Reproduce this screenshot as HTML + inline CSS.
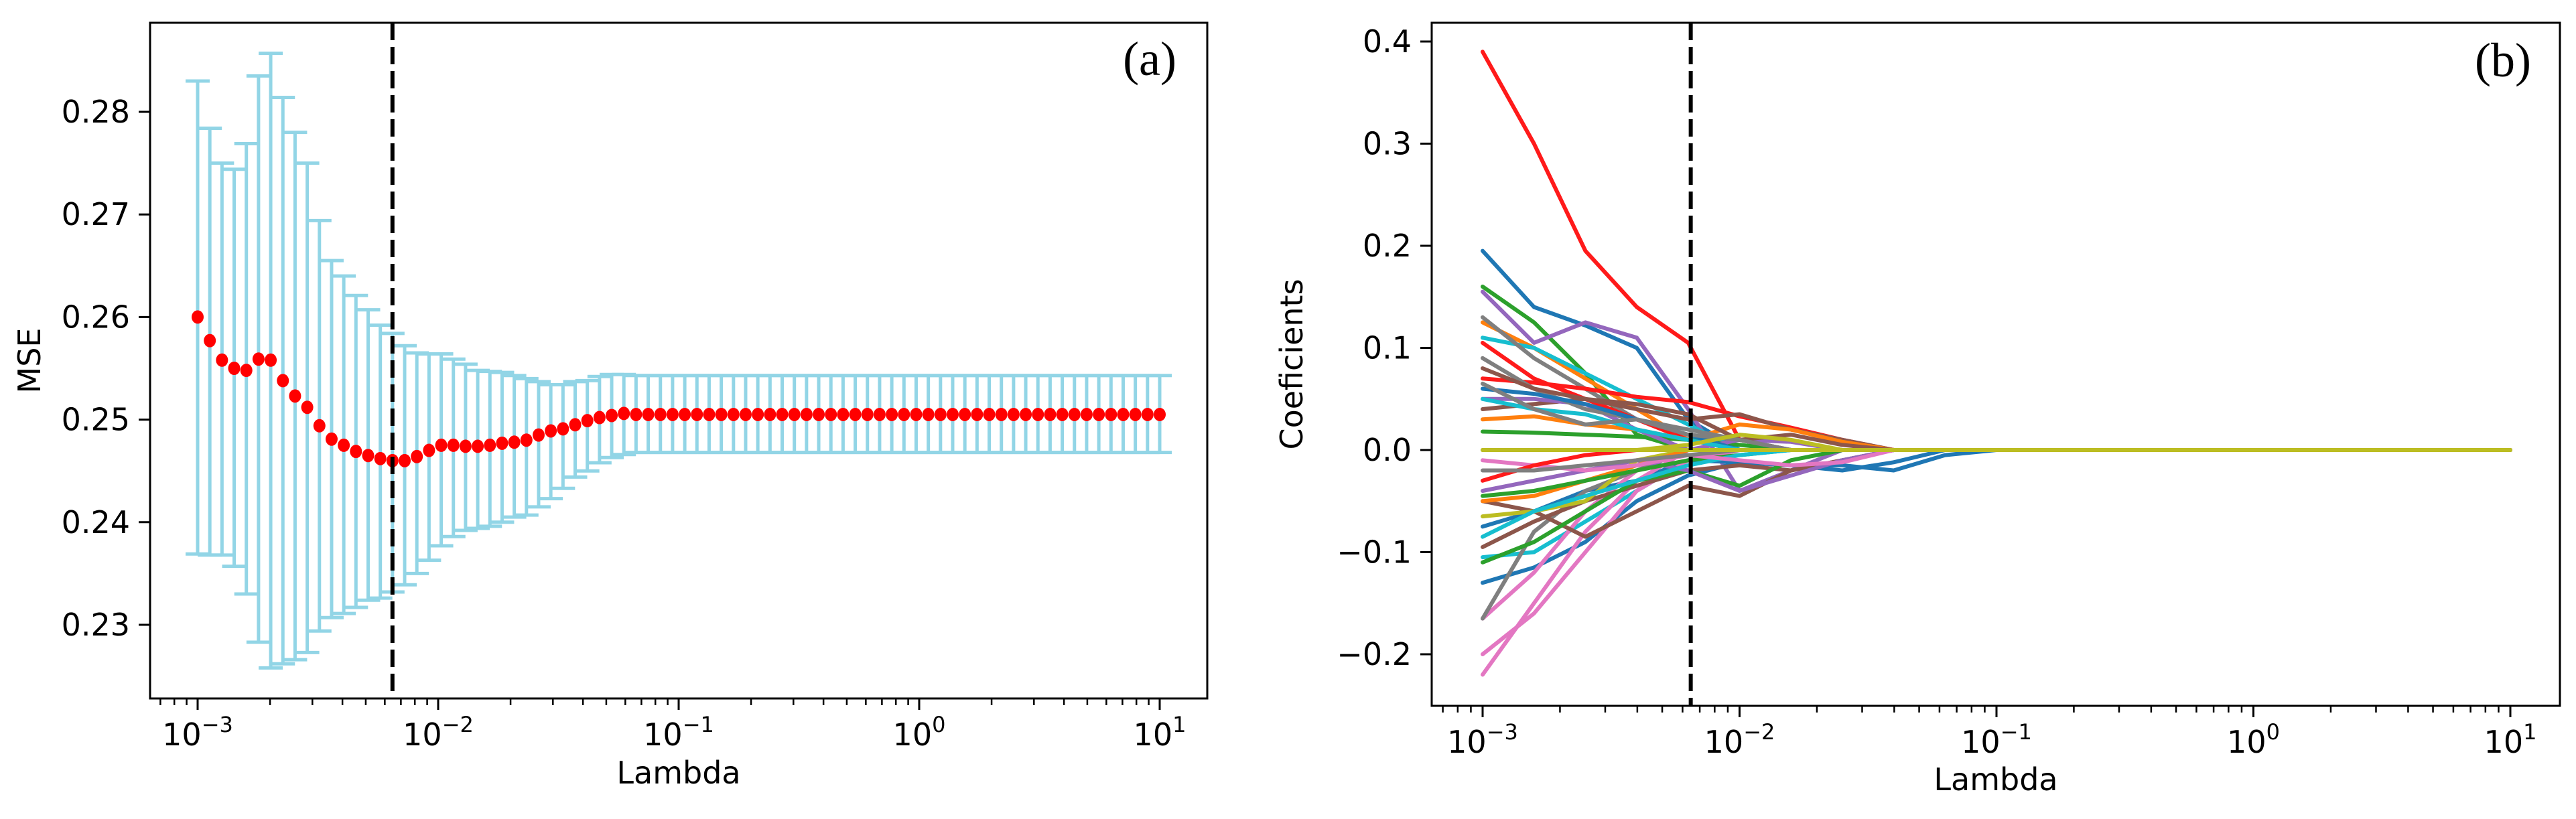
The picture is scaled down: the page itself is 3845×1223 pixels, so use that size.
<!DOCTYPE html>
<html><head><meta charset="utf-8">
<style>
html,body{margin:0;padding:0;background:#fff;}
svg text{font-family:"DejaVu Sans","Liberation Sans",sans-serif;fill:#000;}
</style></head>
<body>
<svg id="fig" width="3845" height="1218" viewBox="0 0 3845 1218" xmlns="http://www.w3.org/2000/svg">
<rect width="3845" height="1218" fill="#fff"/>
<g id="panelA"></g>
<g id="panelB"></g>
</svg>
<script>
// ---- Panel (a) data ----
const mseNLambda = 80;
const mseMean = [0.2600,0.2577,0.2558,0.2550,0.2548,0.2559,0.2558,0.2538,0.2523,0.2512,0.2494,0.2481,0.2475,0.2469,0.2465,0.2462,0.2460,0.2460,0.2464,0.2470,0.2475,0.2475,0.2474,0.2474,0.2475,0.2477,0.2478,0.2480,0.2485,0.2489,0.2491,0.2495,0.2499,0.2502,0.2504,0.2506];
const mseUpper = [0.2830,0.2784,0.2750,0.2744,0.2769,0.2835,0.2857,0.2814,0.2780,0.2750,0.2694,0.2655,0.2640,0.2621,0.2607,0.2592,0.2584,0.2572,0.2565,0.2564,0.2564,0.2559,0.2554,0.2548,0.2547,0.2546,0.2543,0.2540,0.2537,0.2534,0.2534,0.2537,0.2538,0.2542,0.2544,0.2544];
const mseLower = [0.2369,0.2368,0.2368,0.2357,0.2330,0.2283,0.2258,0.2262,0.2266,0.2273,0.2294,0.2307,0.2311,0.2317,0.2324,0.2326,0.2332,0.2339,0.2350,0.2363,0.2377,0.2386,0.2392,0.2394,0.2396,0.2400,0.2405,0.2407,0.2415,0.2423,0.2433,0.2444,0.2450,0.2458,0.2463,0.2466];
const msePlateau = [0.2505, 0.2543, 0.2468]; // mean, upper, lower for remaining lambdas
const mseYTicks = [0.23,0.24,0.25,0.26,0.27,0.28];
const mseYTickLabels = ["0.23","0.24","0.25","0.26","0.27","0.28"];
const xDecades = [-3,-2,-1,0,1];
const xDecadeLabels = ["\u22123","\u22122","\u22121","0","1"];
const bestLogLambda = -2.19;

// ---- Panel (b) data ----
const coefLogLambda = [-3,-2.8,-2.6,-2.4,-2.2,-2.0,-1.8,-1.6,-1.4,-1.2,-1.0,1];
const coefColors = ["#ff1a1a","#1f77b4","#2ca02c","#9467bd","#ff7f0e","#17becf","#7f7f7f","#ff1a1a","#ff1a1a","#8c564b","#ff7f0e","#2ca02c","#9467bd","#7f7f7f","#1f77b4","#8c564b","#17becf","#7f7f7f","#1f77b4","#1f77b4","#17becf","#e377c2","#e377c2","#e377c2","#7f7f7f","#8c564b","#8c564b","#2ca02c","#9467bd","#bcbd22","#ff7f0e","#2ca02c","#17becf","#e377c2","#ff1a1a","#7f7f7f","#7f7f7f","#bcbd22","#bcbd22"];
const coefPaths = [
[0.39,0.30,0.195,0.14,0.105,0.01,0,0,0,0,0,0],
[0.195,0.14,0.122,0.10,0.03,0,0,0,0,0,0,0],
[0.16,0.125,0.075,0.015,0,0,0,0,0,0,0,0],
[0.155,0.105,0.125,0.11,0.04,-0.04,-0.02,0,0,0,0,0],
[0.125,0.10,0.07,0.04,0.01,0,0,0,0,0,0,0],
[0.11,0.10,0.075,0.05,0.025,0,0,0,0,0,0,0],
[0.13,0.09,0.06,0.03,0.015,0.01,0,0,0,0,0,0],
[0.07,0.066,0.06,0.052,0.047,0.033,0.022,0.01,0,0,0,0],
[0.105,0.07,0.05,0.03,0.01,0,0,0,0,0,0,0],
[0.04,0.045,0.05,0.04,0.03,0.035,0.02,0.01,0,0,0,0],
[0.03,0.033,0.025,0.02,0.01,0.025,0.02,0.008,0,0,0,0],
[0.018,0.017,0.015,0.013,0.01,0.005,0,0,0,0,0,0],
[0.05,0.05,0.045,0.02,0,0.01,0.008,0,0,0,0,0],
[0.09,0.06,0.04,0.03,0.02,0.01,0,0,0,0,0,0],
[0.06,0.055,0.045,0.03,0.015,0,0,0,0,0,0,0],
[0.08,0.06,0.05,0.045,0.035,0.01,0.015,0.005,0,0,0,0],
[0.05,0.04,0.035,0.02,0.01,0,0,0,0,0,0,0],
[0.065,0.04,0.025,0.03,0.015,0.01,0,0,0,0,0,0],
[-0.13,-0.115,-0.09,-0.05,-0.025,-0.012,-0.015,-0.02,-0.012,0,0,0],
[-0.075,-0.06,-0.04,-0.03,-0.01,-0.012,-0.015,-0.015,-0.02,-0.005,0,0],
[-0.105,-0.1,-0.07,-0.04,-0.01,0,0,0,0,0,0,0],
[-0.22,-0.15,-0.08,-0.03,0,0,0,0,0,0,0,0],
[-0.2,-0.16,-0.1,-0.04,-0.01,0,0,0,0,0,0,0],
[-0.165,-0.12,-0.06,-0.02,0,0,0,0,0,0,0,0],
[-0.165,-0.08,-0.04,-0.02,0,0,0,0,0,0,0,0],
[-0.05,-0.06,-0.085,-0.06,-0.035,-0.045,-0.02,-0.01,0,0,0,0],
[-0.095,-0.07,-0.05,-0.035,-0.02,-0.015,-0.02,-0.01,0,0,0,0],
[-0.11,-0.09,-0.06,-0.03,-0.02,-0.035,-0.01,0,0,0,0,0],
[-0.04,-0.03,-0.02,-0.01,-0.02,-0.04,-0.025,-0.01,0,0,0,0],
[-0.065,-0.06,-0.05,-0.01,0,0,0,0,0,0,0,0],
[-0.05,-0.045,-0.03,-0.015,0,0,0,0,0,0,0,0],
[-0.045,-0.04,-0.03,-0.02,-0.01,-0.005,0,0,0,0,0,0],
[-0.085,-0.06,-0.045,-0.03,-0.015,-0.005,0,0,0,0,0,0],
[-0.01,-0.015,-0.02,-0.015,-0.005,-0.01,-0.015,-0.012,0,0,0,0],
[-0.03,-0.015,-0.005,0,0,0,0,0,0,0,0,0],
[-0.02,-0.02,-0.015,-0.01,-0.005,0,0,0,0,0,0,0],
[0,0,0,0,0,0,0,0,0,0,0,0],
[0,0,0,0,0.005,0.015,0.01,0,0,0,0,0],
[0,0,0,0,0,0,0,0,0,0,0,0]
];
const coefYTicks = [-0.2,-0.1,0.0,0.1,0.2,0.3,0.4];
const coefYTickLabels = ["\u22120.2","\u22120.1","0.0","0.1","0.2","0.3","0.4"];

const NS = "http://www.w3.org/2000/svg";
function mk(tag, attrs, parent){
  const e = document.createElementNS(NS, tag);
  for (const k in attrs) e.setAttribute(k, attrs[k]);
  parent.appendChild(e);
  return e;
}

function drawAxes(g, P, xs, ys, yTicks, yLabels, yTitle, xTitleY, tag, tagX, tagY){
  const fr = mk('rect', {x:P.l, y:P.t, width:P.r-P.l, height:P.b-P.t, fill:'none', stroke:'#000', 'stroke-width':3}, g);
  
  
  yTicks.forEach((v,i)=>{
    const y = ys(v);
    const t = mk('line', {x1:P.l-17, x2:P.l, y1:y, y2:y, stroke:'#000','stroke-width':3}, g);
    
    
    const tx = mk('text', {x:P.l-30, y:y+16, 'font-size':46, 'text-anchor':'end'}, g);
    tx.textContent = yLabels[i];
    
    
  });
  xDecades.forEach((d,i)=>{
    const x = xs(d);
    const t = mk('line', {x1:x, x2:x, y1:P.b, y2:P.b+17, stroke:'#000','stroke-width':3}, g);
    
    
    const tx = mk('text', {x:x, y:P.b+70, 'font-size':46, 'text-anchor':'middle'}, g);
    
    
    const a = document.createElementNS(NS,'tspan'); a.textContent='10'; tx.appendChild(a);
    const b = document.createElementNS(NS,'tspan'); b.setAttribute('dy','-20'); b.setAttribute('font-size','32'); b.textContent=xDecadeLabels[i]; tx.appendChild(b);
  });
  for (let d=-4; d<=1; d++){
    for (let m=2; m<=9; m++){
      const lv = d + Math.log10(m);
      const x = xs(lv);
      if (x < P.l+2 || x > P.r-2) continue;
      const t = mk('line', {x1:x, x2:x, y1:P.b, y2:P.b+10, stroke:'#000','stroke-width':2.5}, g);
      
      
    }
  }
  const xt = mk('text', {x:(P.l+P.r)/2, y:xTitleY, 'font-size':46, 'text-anchor':'middle'}, g);
  xt.textContent = 'Lambda';
  
  
  const yt = mk('text', {x:0, y:0, 'font-size':46, 'text-anchor':'middle', transform:`translate(${P.yTitleX},${(P.t+P.b)/2}) rotate(-90)`}, g);
  yt.textContent = yTitle;
  
  
  const tg = mk('text', {x:tagX, y:tagY, 'font-size':72, 'text-anchor':'end', style:'font-family:"Liberation Serif",serif'}, g);
  tg.textContent = tag;
  
  
}

(function(){
  const g = document.getElementById('panelA');
  const P = {l:224, r:1802, t:34, b:1043, yTitleX:60};
  const x0 = 295, dec = 359;
  const xs = lv => x0 + (lv + 3) * dec;
  const ys = v => 167 + (0.28 - v) / 0.01 * 153.2;
  drawAxes(g, P, xs, ys, mseYTicks, mseYTickLabels, 'MSE', 1170, '(a)', 1756, 112);
  const eb = mk('g', {}, g);
  
  
  const dots = mk('g', {}, g);
  
  
  for (let i=0;i<mseNLambda;i++){
    const lv = -3 + 4*i/(mseNLambda-1);
    const x = xs(lv);
    const m = i<mseMean.length ? mseMean[i] : msePlateau[0];
    const u = i<mseUpper.length ? mseUpper[i] : msePlateau[1];
    const lo = i<mseLower.length ? mseLower[i] : msePlateau[2];
    const col = '#92d5e6';
    const v = mk('line', {x1:x,x2:x,y1:ys(u),y2:ys(lo),stroke:col,'stroke-width':5}, eb);
    
    
    const c1 = mk('line', {x1:x-18,x2:x+18,y1:ys(u),y2:ys(u),stroke:col,'stroke-width':5}, eb);
    
    
    const c2 = mk('line', {x1:x-18,x2:x+18,y1:ys(lo),y2:ys(lo),stroke:col,'stroke-width':5}, eb);
    
    
    const d = mk('ellipse', {cx:x, cy:ys(m), rx:9, ry:10, fill:'#ff0000'}, dots);
    
    
  }
  g.appendChild(dots);
  const bx = xs(bestLogLambda);
  const dl = mk('line', {x1:bx,x2:bx,y1:P.t,y2:P.b,stroke:'#000','stroke-width':6,'stroke-dasharray':'26 10'}, g);
  
  
})();

(function(){
  const g = document.getElementById('panelB');
  const P = {l:2137, r:3821, t:34, b:1054, yTitleX:1944};
  const x0 = 2213, dec = 383.5;
  const xs = lv => x0 + (lv + 3) * dec;
  const ys = v => 672 - v / 0.1 * 152.5;
  drawAxes(g, P, xs, ys, coefYTicks, coefYTickLabels, 'Coeficients', 1180, '(b)', 3778, 114);
  const lines = mk('g', {}, g);
  
  
  coefPaths.forEach((vals,i)=>{
    const pts = vals.map((v,j)=> xs(coefLogLambda[j]).toFixed(1)+','+ys(v).toFixed(1)).join(' ');
    const pl = mk('polyline', {points:pts, fill:'none', stroke:coefColors[i], 'stroke-width':6, 'stroke-linejoin':'round', 'stroke-linecap':'round'}, lines);
    
    
  });
  const bx = xs(bestLogLambda);
  const dl = mk('line', {x1:bx,x2:bx,y1:P.t,y2:P.b,stroke:'#000','stroke-width':6,'stroke-dasharray':'26 10'}, g);
  
  
})();
</script>
</body></html>
